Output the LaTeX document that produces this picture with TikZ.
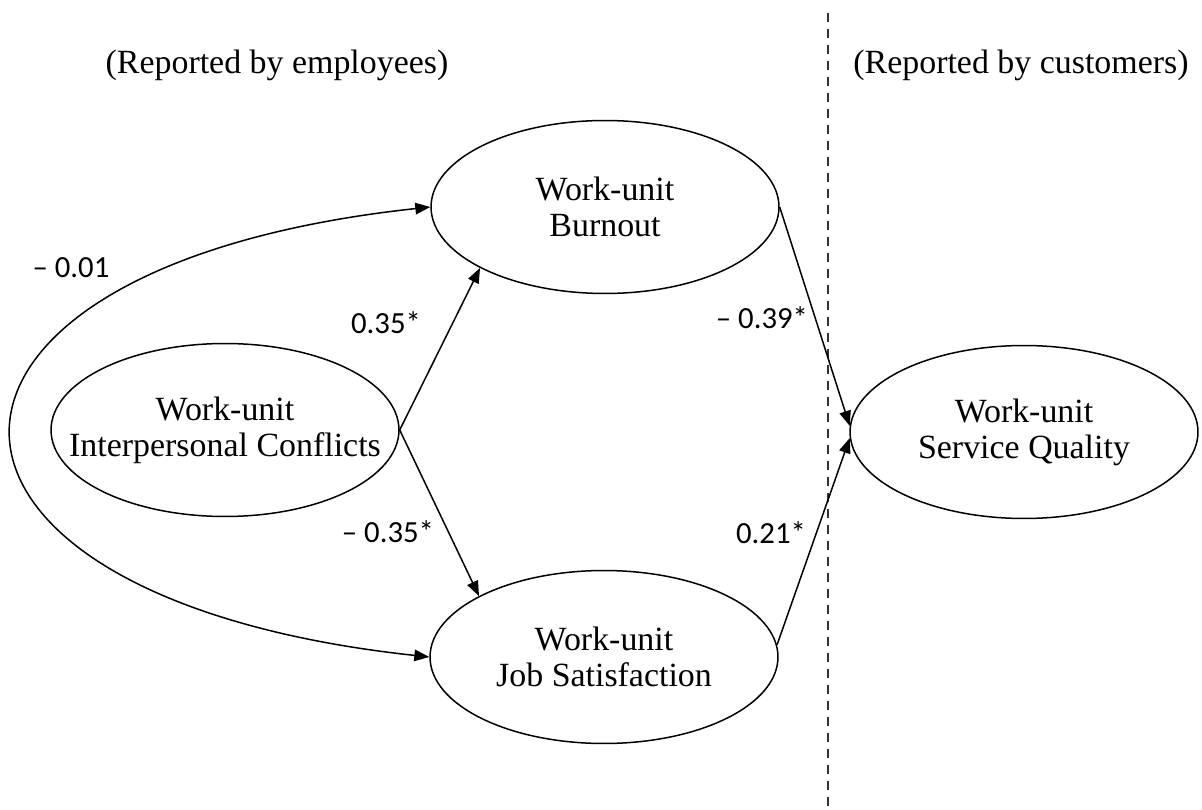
\documentclass[tikz,border=0pt]{standalone}
\usepackage{fontspec}
\setmainfont{Liberation Serif}
\newfontfamily\coeffont{Carlito}
\usetikzlibrary{shapes.geometric,arrows.meta}

\begin{document}
\begin{tikzpicture}[x=0.02cm,y=-0.02cm]
	\tikzstyle{every node}=[inner sep=0pt]
	\tikzstyle{latent}=[draw,ellipse,line width=0.3mm,minimum width=6.96cm,minimum height=3.46cm]
	\tikzstyle{construct}=[align=center,font=\fontsize{19.3}{20.5}\selectfont]
	\tikzstyle{source}=[font=\fontsize{19.3}{20.5}\selectfont]
	\tikzstyle{coef}=[font=\coeffont\fontsize{17.5}{20}\selectfont]
	\tikzstyle{effect}=[-{Triangle[length=3mm,width=2.3mm]},line width=0.3mm]
	\tikzstyle{divider}=[line width=0.3mm,black!80,dash pattern=on 1.8mm off 1.4mm]
	\useasboundingbox (0,0) rectangle (1202,810);
	% who reported what
	\node[source] (employees) at (277,65) {(Reported by employees)};
	\node[source] (customers) at (1021,65) {(Reported by customers)};
	\coordinate (divtop) at (828,13);
	\coordinate (divbot) at (828,810);
	\draw[divider] (divtop) -- (divbot);
	% constructs
	\node[latent,label={[construct]center:Work-unit\\Interpersonal Conflicts}] (conflict) at (225,430) {};
	\node[latent,label={[construct]center:Work-unit\\Burnout}] (burnout) at (605,207) {};
	\node[latent,label={[construct]center:Work-unit\\Job Satisfaction}] (jobsat) at (604,657) {};
	\node[latent,label={[construct]center:Work-unit\\Service Quality}] (quality) at (1024,432) {};
	% paths
	\draw[effect] (conflict.east) -- (burnout.206);
	\draw[effect] (conflict.east) -- (jobsat.154);
	\draw[effect] (burnout.east) -- (quality.178);
	\draw[effect] (jobsat.4) -- (quality.182);
	\draw[effect,{Triangle[length=3mm,width=2.3mm]}-{Triangle[length=3mm,width=2.3mm]}]
		(burnout.west) .. controls +(-557,60) and +(-555,-60) .. (jobsat.west);
	% coefficients
	\node[coef] (r01) at (71,268) {– 0.01};
	\node[coef] (b35) at (386,323) {0.35*};
	\node[coef] (s35) at (388,532) {– 0.35*};
	\node[coef] (b39) at (762,318) {– 0.39*};
	\node[coef] (s21) at (771,533) {0.21*};
\end{tikzpicture}
\end{document}
